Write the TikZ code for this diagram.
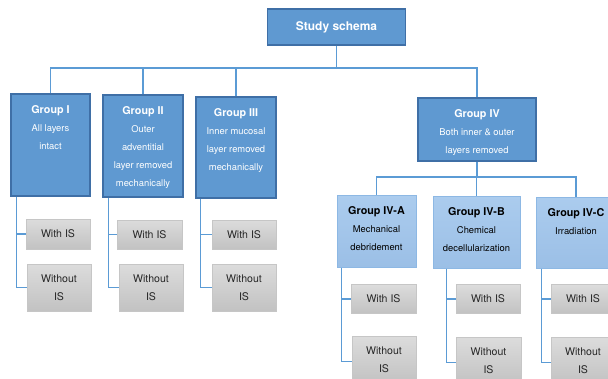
\documentclass[tikz,border=0pt]{standalone}
\usepackage{fontspec}
\setmainfont{TeX Gyre Heros}
\definecolor{topfill}{HTML}{5F99D1}
\definecolor{topdraw}{HTML}{3F6FA6}
\definecolor{subtop}{HTML}{ABCCEE}
\definecolor{subbot}{HTML}{9BBFE6}
\definecolor{subdraw}{HTML}{8DB8E4}
\definecolor{graytop}{HTML}{DCDCDC}
\definecolor{graybot}{HTML}{C2C2C2}
\definecolor{graydraw}{HTML}{C6C6C6}
\definecolor{linecol}{HTML}{5B9BD5}
\newcommand{\boxtxt}[3]{\parbox[c][#2bp][t]{#1bp}{\centering\baselineskip=18bp\vspace*{12bp}#3\par}}
\tikzset{
  x=1bp,y=-1bp,
  topbox/.style={draw=topdraw, fill=topfill, line width=1.1bp, inner sep=0pt, text=white, font=\fontsize{9.4}{18}\selectfont},
  subbox/.style={draw=subdraw, top color=subtop, bottom color=subbot, line width=1bp, inner sep=0pt, text=black, font=\fontsize{9.4}{18}\selectfont},
  graybox/.style={draw=graydraw, top color=graytop, bottom color=graybot, line width=0.8bp, inner sep=0pt, text=black!85, font=\fontsize{10.6}{18}\selectfont, align=center},
  conn/.style={draw=linecol, line width=1.2bp},
}
\newcommand{\ttl}[1]{{\fontsize{10.8}{18}\selectfont\bfseries #1}\\}
\begin{document}
\begin{tikzpicture}
\useasboundingbox (0,0) rectangle (608,378);
\clip (0,0) rectangle (608,378);
% root
\node[topbox, minimum width=138bp, minimum height=36bp, font=\fontsize{12}{14}\selectfont\bfseries] (s) at (336.5,27) {Study schema};
% groups
\node[topbox] (g1) at (50.5,145) {\boxtxt{79}{102}{\ttl{Group I}All layers\\intact}};
\node[topbox] (g2) at (143,146) {\boxtxt{80}{102}{\ttl{Group II}Outer\\adventitial\\layer removed\\mechanically}};
\node[topbox] (g3) at (236,147.5) {\boxtxt{80}{101}{\ttl{Group III}Inner mucosal\\layer removed\\mechanically}};
\node[topbox] (g4) at (477,129.5) {\boxtxt{118}{63}{\ttl{Group IV}Both inner \& outer\\layers removed}};
% subgroups
\node[subbox] (g4a) at (376.5,231) {\boxtxt{79}{72}{\ttl{Group IV-A}Mechanical\\debridement}};
\node[subbox] (g4b) at (476.5,232) {\boxtxt{87}{72}{\ttl{Group IV-B}Chemical\\decellularization}};
\node[subbox] (g4c) at (576,232.5) {\boxtxt{80}{71}{\ttl{Group IV-C}Irradiation}};
% buses
\coordinate (bus) at (336.5,68);
\coordinate (bus4) at (477,177);
\draw[conn] (s.south) -- (bus);
\draw[conn] (g1.north) |- (bus);
\draw[conn] (g2.north) |- (bus);
\draw[conn] (g3.north) |- (bus);
\draw[conn] (g4.north) |- (bus);
\draw[conn] (g4.south) -- (bus4);
\draw[conn] (g4a.north) |- (bus4);
\draw[conn] (g4b.north) |- (bus4);
\draw[conn] (g4c.north) |- (bus4);
% leaves
\node[graybox, minimum width=64bp, minimum height=30bp] (w1) at (58,234) {With IS};
\node[graybox, minimum width=64bp, minimum height=47bp] (n1) at (59,287.5) {Without\\IS};
\node[graybox, minimum width=65bp, minimum height=29bp] (w2) at (149.5,234.5) {With IS};
\node[graybox, minimum width=64bp, minimum height=47bp] (n2) at (151,287.5) {Without\\IS};
\node[graybox, minimum width=64bp, minimum height=29bp] (w3) at (244,234.5) {With IS};
\node[graybox, minimum width=64bp, minimum height=47bp] (n3) at (244,287.5) {Without\\IS};
\node[graybox, minimum width=65bp, minimum height=29bp] (w4a) at (383.5,299) {With IS};
\node[graybox, minimum width=64bp, minimum height=47bp] (n4a) at (384,359.5) {Without\\IS};
\node[graybox, minimum width=64bp, minimum height=29bp] (w4b) at (488,299) {With IS};
\node[graybox, minimum width=65bp, minimum height=47bp] (n4b) at (488.5,360.5) {Without\\IS};
\node[graybox, minimum width=64bp, minimum height=29bp] (w4c) at (583,299) {With IS};
\node[graybox, minimum width=64bp, minimum height=47bp] (n4c) at (583,360.5) {Without\\IS};
% leaf connectors
\draw[conn] ([xshift=6bp]g1.south west) |- (n1.west);
\draw[conn] ([xshift=6bp]g1.south west |- w1.west) -- (w1.west);
\draw[conn] ([xshift=6bp]g2.south west) |- (n2.west);
\draw[conn] ([xshift=6bp]g2.south west |- w2.west) -- (w2.west);
\draw[conn] ([xshift=5bp]g3.south west) |- (n3.west);
\draw[conn] ([xshift=5bp]g3.south west |- w3.west) -- (w3.west);
\draw[conn] ([xshift=5bp]g4a.south west) |- ([yshift=-2bp]n4a.west);
\draw[conn] ([xshift=5bp]g4a.south west |- w4a.west) -- (w4a.west);
\draw[conn] ([xshift=14bp]g4b.south west) |- ([yshift=-2bp]n4b.west);
\draw[conn] ([xshift=14bp]g4b.south west |- w4b.west) -- (w4b.west);
\draw[conn] ([xshift=6bp]g4c.south west) |- ([yshift=-2bp]n4c.west);
\draw[conn] ([xshift=6bp]g4c.south west |- w4c.west) -- (w4c.west);
\end{tikzpicture}
\end{document}
